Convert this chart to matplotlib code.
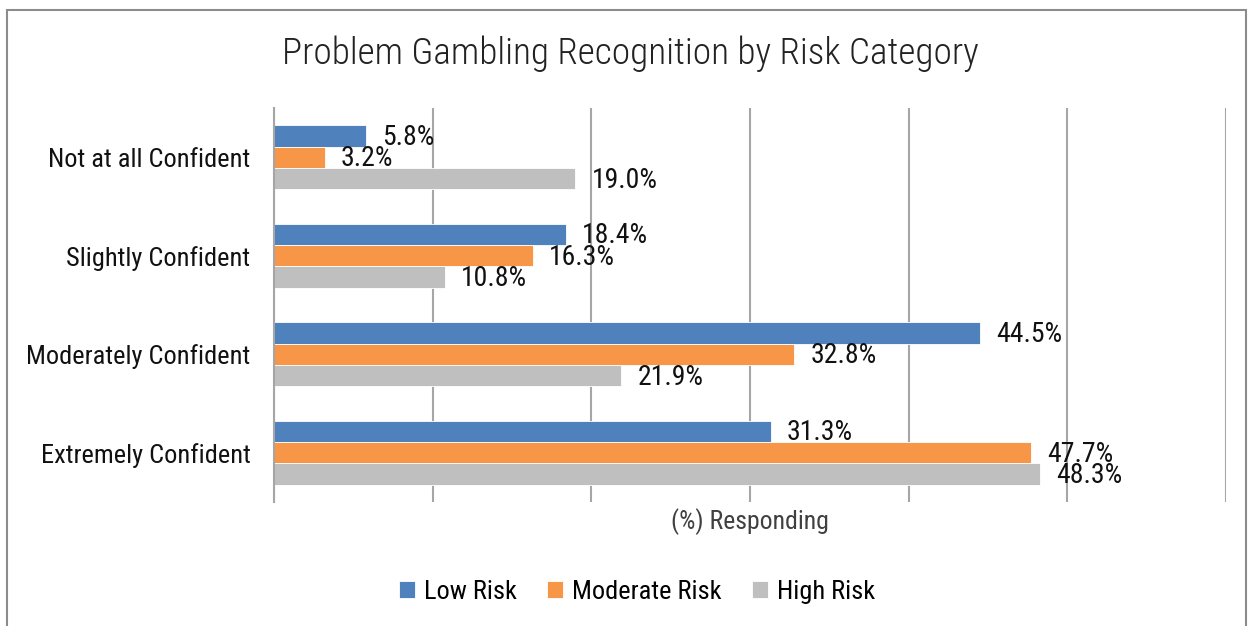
import matplotlib
matplotlib.use("Agg")
import matplotlib.pyplot as plt
from matplotlib.patches import Rectangle
import numpy as np

plt.rcParams['font.family'] = ['Roboto Condensed', 'Roboto', 'DejaVu Sans']

categories = ["Not at all Confident", "Slightly Confident",
              "Moderately Confident", "Extremely Confident"]
series_names = ["Low Risk", "Moderate Risk", "High Risk"]
low_risk = [5.8, 18.4, 44.5, 31.3]
moderate_risk = [3.2, 16.3, 32.8, 47.7]
high_risk = [19.0, 10.8, 21.9, 48.3]
colors = ["#4F81BD", "#F79646", "#BFBFBF"]

W, H = 1250, 626
fig = plt.figure(figsize=(W / 100, H / 100), dpi=100)

# outer chart-area frame
fig.patches.append(Rectangle((7 / W, -0.05), (1246 - 7) / W, 1 - 10 / H + 0.05,
                             transform=fig.transFigure, fill=False,
                             edgecolor="#8C8C8C", linewidth=1.5))

ax = fig.add_axes([274 / W, 1 - 502 / H, (1226 - 274) / W, (502 - 108) / H])

y = np.arange(len(categories))
bh = 0.218
offsets = [-bh, 0, bh]
for vals, off, col, name in zip([low_risk, moderate_risk, high_risk], offsets, colors, series_names):
    bars = ax.barh(y + off, vals, height=bh, color=col, edgecolor="white",
                   linewidth=0.6, label=name, zorder=3)
    for b, v in zip(bars, vals):
        ax.annotate(f"{v:.1f}%", (v, b.get_y() + b.get_height() / 2),
                    xytext=(11.5, -1), textcoords="offset points",
                    va="center", ha="left", fontsize=20, color="#111111", zorder=4)

ax.set_xlim(0, 60)
ax.set_ylim(3.5, -0.5)
ax.set_xticks(np.arange(0, 61, 10))
ax.set_xticklabels([])
ax.tick_params(axis="x", length=0)
ax.tick_params(axis="y", length=0, pad=17, labelsize=19, labelcolor="#111111")
ax.set_yticks(y)
ax.set_yticklabels(categories)
ax.grid(axis="x", color="#A6A6A6", linewidth=1.5, zorder=0)
for s in ["top", "right", "bottom"]:
    ax.spines[s].set_visible(False)
ax.spines["left"].set_color("#A6A6A6")
ax.spines["left"].set_linewidth(1.5)
ax.spines["left"].set_zorder(5)

fig.text(750 / W, 1 - 522 / H, "(%) Responding", ha="center", va="center",
         fontsize=18.5, color="#404040")

fig.text(630 / W, 1 - 54 / H, "Problem Gambling Recognition by Risk Category",
         ha="center", va="center", fontsize=26.8, fontweight="light", color="#222222")

fig.legend(loc="center", bbox_to_anchor=(637 / W, 1 - 592 / H), ncol=3,
           frameon=False, fontsize=19, handlelength=0.6, handleheight=0.6,
           columnspacing=1.15, handletextpad=0.35)

fig.savefig("out.png", dpi=100, facecolor="white")
